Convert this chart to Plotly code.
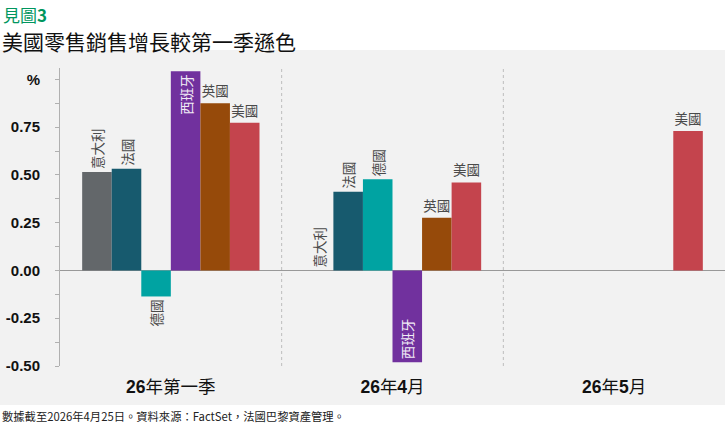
import re
import plotly.graph_objects as go

categories = ["26年第一季", "26年4月", "26年5月"]
series_names = ["意大利", "法國", "德國", "西班牙", "英國", "美國"]
italy = [0.515, 0.0, None]
france = [0.533, 0.412, None]
germany = [-0.136, 0.477, None]
spain = [1.043, -0.480, None]
uk = [0.875, 0.276, None]
usa = [0.774, 0.461, 0.730]
series_values = [italy, france, germany, spain, uk, usa]
colors = ["#63676a", "#175a6e", "#00a3a2", "#71319e", "#964a0a", "#c4444d"]
tick_vals = [-0.5, -0.25, 0.0, 0.25, 0.5, 0.75, 1.0]
tick_text = ["-0.50", "-0.25", "0.00", "0.25", "0.50", "0.75", "%"]

CJK = "Noto Sans CJK TC"
fig = go.Figure()
for name, vals, col in zip(series_names, series_values, colors):
    vertical = name in ("意大利", "法國", "德國", "西班牙")
    inside = name == "西班牙"
    texts = [name if v is not None else "" for v in vals]
    fig.add_trace(go.Bar(
        x=categories, y=vals, name=name,
        marker=dict(color=col, line=dict(width=0)),
        text=texts,
        textposition="inside" if inside else "outside",
        insidetextanchor="end",
        textangle=-90 if vertical else 0,
        textfont=dict(family=CJK, size=13.5, color="#f0eaf5" if inside else "#4a4a4a"),
        constraintext="none",
        cliponaxis=False,
        hoverinfo="skip",
    ))

cat_text = [re.sub(r"(\d+)", r"<b>\1</b>", c) for c in categories]

fig.update_layout(
    width=725, height=425,
    margin=dict(l=60, r=0, t=68, b=59, autoexpand=False),
    paper_bgcolor="white",
    plot_bgcolor="rgba(0,0,0,0)",
    barmode="group",
    bargap=0.2,
    bargroupgap=0,
    showlegend=False,
    font=dict(family=CJK),
)
fig.update_xaxes(
    type="category", showgrid=False, showline=False, ticks="",
    tickvals=categories, ticktext=cat_text,
    tickfont=dict(family="Liberation Sans, " + CJK, size=17.5, color="#111111"),
    ticklabelstandoff=8, automargin=False,
    range=[-0.5, 2.5],
)
fig.update_yaxes(
    range=[-0.5, 1.06], tickvals=tick_vals, ticktext=tick_text,
    showgrid=False, showline=True, linecolor="#b0b0b0", linewidth=1,
    ticks="outside", ticklen=4, tickcolor="#b0b0b0",
    minor=dict(dtick=0.125, ticks="outside", ticklen=4, tickcolor="#b0b0b0", showgrid=False),
    zeroline=True, zerolinecolor="#999999", zerolinewidth=1,
    tickfont=dict(family="Liberation Sans", size=15, color="#111111", weight="bold"),
    ticklabelstandoff=12, automargin=False,
)

# background panel
fig.add_shape(type="rect", xref="paper", yref="paper", x0=-60/665, x1=1.0,
              y0=-(405-366)/298, y1=(366-50)/298, fillcolor="#f2f2f2",
              line=dict(width=0), layer="below")
# dividers
for xv in [0.5, 1.5]:
    fig.add_shape(type="line", xref="x", yref="paper", x0=xv, x1=xv, y0=0, y1=1,
                  line=dict(color="#bdbdbd", width=1, dash="dot"), layer="below")

fig.add_annotation(text="見圖<b>3</b>", xref="paper", yref="paper", x=-59/665, y=(366-0)/298,
                   xanchor="left", yanchor="top", showarrow=False,
                   font=dict(family=CJK, size=17, color="#00965e"))
fig.add_annotation(text="美國零售銷售增長較第一季遜色", xref="paper", yref="paper",
                   x=-60/665, y=(366-24)/298, xanchor="left", yanchor="top", showarrow=False,
                   font=dict(family=CJK, size=21, color="#111111"))
fig.add_annotation(text="數據截至2026年4月25日。資料來源：FactSet，法國巴黎資產管理。",
                   xref="paper", yref="paper", x=-60/665, y=-(406-366)/298,
                   xanchor="left", yanchor="top", showarrow=False,
                   font=dict(family=CJK, size=11.3, color="#222222"))

fig.write_html("out.html", config={"displayModeBar": False},
               post_script="document.body.style.margin='0';document.body.style.overflow='hidden';")
